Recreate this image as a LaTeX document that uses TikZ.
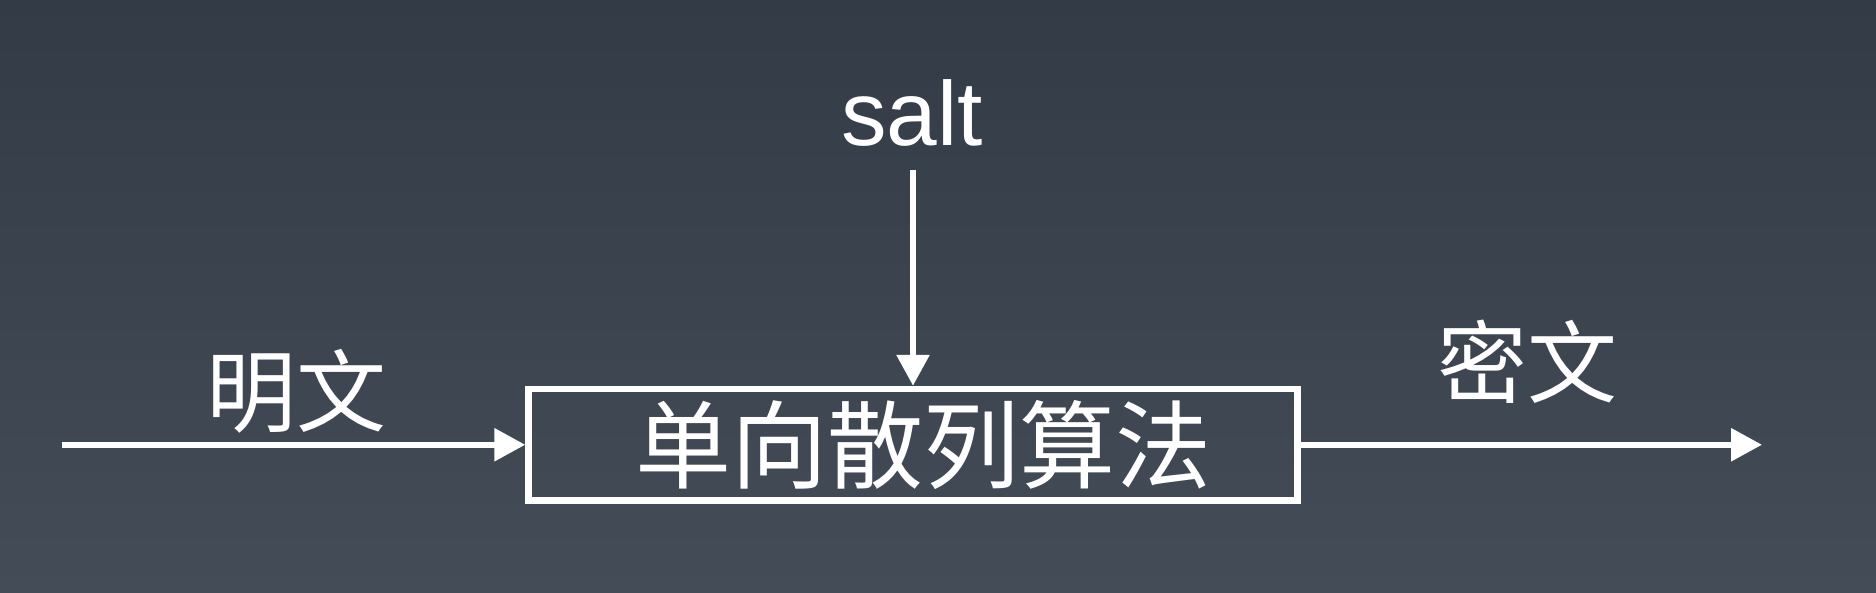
\documentclass[tikz,border=0pt]{standalone}
\usepackage{fontspec}
\setmainfont{Liberation Sans}
\newfontfamily\cjk{Noto Sans CJK SC}
\usetikzlibrary{arrows.meta}
\definecolor{bgtop}{HTML}{333B47}
\definecolor{bgbot}{HTML}{434C57}
\tikzset{
  conn/.style={draw=white, line width=6pt, -{Triangle[width=32pt,length=31pt]}},
  algbox/.style={draw=white, line width=6.5pt, minimum width=769pt, minimum height=111.5pt, inner sep=0pt, text=white},
  lbl/.style={text=white, inner sep=0pt}
}
\begin{document}
\begin{tikzpicture}[x=1pt,y=1pt]
\shade[top color=bgtop, bottom color=bgbot] (0,0) rectangle (1876,-592);
\useasboundingbox (0,0) rectangle (1876,-592);
\node[algbox] (alg) at (913,-444.75) {\cjk\fontsize{96}{110}\selectfont\hspace*{20pt}单向散列算法};
\node[lbl, anchor=base] (salt) at (912,-145) {\fontsize{91}{100}\selectfont salt};
\node[lbl] (plain) at (296,-391) {\cjk\fontsize{90}{100}\selectfont 明文};
\node[lbl] (cipher) at (1527,-362) {\cjk\fontsize{90}{100}\selectfont 密文};
\coordinate (in) at (62,-444.75);
\coordinate (saltstart) at (913,-170);
\coordinate (out) at (1762,-444.75);
\draw[conn] (in) -- (alg.west);
\draw[conn] (saltstart) -- (alg.north);
\draw[conn] (alg.east) -- (out);
\end{tikzpicture}
\end{document}
